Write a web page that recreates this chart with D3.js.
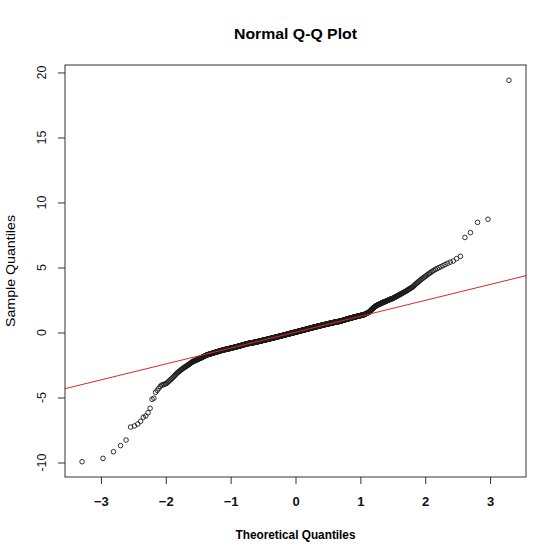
<!DOCTYPE html>
<html>
<head>
<meta charset="utf-8">
<script src="https://cdn.jsdelivr.net/npm/d3@7"></script>
<style>
  html, body { margin: 0; padding: 0; background: #fff; }
  svg { display: block; font-family: "Liberation Sans", Arial, sans-serif; }
</style>
</head>
<body>
<svg id="chart" width="560" height="559"></svg>
<script>
// ---- Data: sorted sample values (rank order) ----
const lowerTail = [-9.94,-9.68,-9.17,-8.70,-8.27,-7.27,-7.19,-7.04,-6.83,-6.52,
  -6.42,-6.17,-5.83,-5.14,-5.05,-4.60,-4.45,-4.30,-4.15,-4.05];

const lowerShoulder = [-4.02,-3.98,-3.95,-3.90,
  -3.82,-3.75,-3.66,-3.60,-3.52,-3.45,-3.37,-3.30,-3.22,-3.14,
  -3.09,-3.04,-2.99,-2.94,-2.89,-2.84,-2.80,-2.75,
  -2.72,-2.68,-2.65,-2.61,-2.58,-2.55,-2.51,-2.48,-2.44,-2.41,-2.37,-2.34,-2.31,-2.27,-2.24,
  -2.22,-2.20,-2.18,-2.17,-2.15,-2.13,-2.11,-2.09,-2.08,-2.06,-2.04,-2.02,-2.01,-1.99,-1.97,
  -1.95,-1.94,-1.92,-1.90,-1.88,-1.87,-1.85,-1.83,-1.81,-1.80,-1.78,-1.76,-1.75,-1.73,
  -1.72,-1.71,-1.70,-1.69,-1.68,-1.67,-1.66,-1.66,-1.65,-1.64,-1.63,-1.62,-1.61,-1.60,-1.59,
  -1.58,-1.57,-1.56,-1.56,-1.55,-1.54,-1.53,-1.52,-1.51,-1.51,-1.50,-1.49,-1.48,-1.48,-1.47,
  -1.46,-1.45,-1.45,-1.44,-1.43,-1.42,-1.42,-1.41,-1.40,-1.39,-1.39,-1.38,-1.37,-1.37,-1.36,-1.35];

const lowerCore = [
  -1.34,-1.34,-1.33,-1.33,-1.32,-1.32,-1.31,-1.31,-1.30,-1.30,
  -1.29,-1.29,-1.28,-1.28,-1.27,-1.27,-1.26,-1.26,-1.25,-1.25,
  -1.24,-1.24,-1.23,-1.23,-1.22,-1.22,-1.21,-1.21,-1.20,-1.20,
  -1.19,-1.19,-1.18,-1.18,-1.17,-1.17,-1.16,-1.16,-1.15,-1.15,
  -1.14,-1.14,-1.13,-1.13,-1.12,-1.12,-1.11,-1.11,-1.10,-1.10,
  -1.09,-1.09,-1.08,-1.08,-1.07,-1.07,-1.06,-1.06,-1.05,-1.05,
  -1.04,-1.04,-1.03,-1.03,-1.02,-1.02,-1.01,-1.01,-1.00,-1.00,
  -0.99,-0.99,-0.98,-0.98,-0.97,-0.97,-0.96,-0.96,-0.95,-0.95,
  -0.94,-0.94,-0.93,-0.93,-0.92,-0.92,-0.91,-0.91,-0.90,-0.90,
  -0.89,-0.89,-0.88,-0.88,-0.87,-0.87,-0.87,-0.86,-0.86,-0.86,
  -0.85,-0.85,-0.85,-0.84,-0.84,-0.84,-0.83,-0.83,-0.83,-0.83,
  -0.83,-0.82,-0.82,-0.82,-0.81,-0.81,-0.81,-0.80,
  -0.80,-0.80,-0.79,-0.79,-0.79,-0.78,-0.78,-0.78,-0.77,-0.77,
  -0.77,-0.76,-0.76,-0.76,-0.75,-0.75,-0.75,-0.74,-0.74,-0.74,
  -0.73,-0.73,-0.73,-0.72,-0.72,-0.72,-0.71,-0.71,-0.71,-0.70,
  -0.70,-0.70,-0.69,-0.69,-0.69,-0.68,-0.68,-0.68,-0.67,-0.67,
  -0.67,-0.66,
  -0.66,-0.65,-0.65,-0.65,-0.64,-0.64,-0.64,-0.63,-0.63,-0.63,
  -0.62,-0.62,-0.62,-0.61,-0.61,-0.61,-0.60,-0.60,-0.60,-0.59,
  -0.59,-0.59,-0.58,-0.58,-0.58,-0.57,-0.57,-0.57,-0.56,-0.56,
  -0.56,-0.55,-0.55,-0.55,-0.54,-0.54,-0.54,-0.53,-0.53,-0.53,
  -0.52,-0.52,-0.52,-0.51,-0.51,-0.51,-0.50,-0.50,-0.50,-0.49,
  -0.49,-0.49,-0.48,-0.48,-0.48,-0.47,-0.47,-0.47,-0.46,-0.46,
  -0.46,-0.45,-0.45,-0.45,-0.44,-0.44,-0.44,-0.43,-0.43,-0.43,
  -0.42,-0.42,-0.42,-0.41,-0.41,-0.41,-0.40,-0.40,-0.40,-0.39,
  -0.39,-0.39,-0.38,-0.38,-0.38,-0.37,-0.37,-0.37,-0.36,-0.36,
  -0.36,-0.35,-0.35,-0.35,-0.34,-0.34,-0.34,-0.33,-0.33,-0.33,
  -0.32,-0.32,-0.32,-0.31,-0.31,-0.31,-0.31,-0.30,-0.30,-0.30,
  -0.29,-0.29,-0.29,-0.28,-0.28,-0.28,-0.27,-0.27,-0.27,-0.26,
  -0.26,-0.26,-0.25,-0.25,-0.25,-0.24,-0.24,-0.24,-0.23,-0.23,
  -0.23,-0.22,-0.22,-0.22,-0.21,-0.21,-0.21,-0.20,-0.20,-0.20,
  -0.19,-0.19,-0.19,-0.18,-0.18,-0.18,-0.17,-0.17,-0.17,-0.16,
  -0.16,-0.16,-0.15,-0.15,-0.15,-0.14,-0.14,-0.14,-0.13,-0.13,
  -0.13,-0.12,-0.12,-0.12,-0.11,-0.11,-0.11,-0.10,-0.10,-0.10,
  -0.09,-0.09,-0.09,-0.08,-0.08,-0.08,-0.07,-0.07,-0.07,-0.06,
  -0.06,-0.06,-0.05,-0.05,-0.05,-0.04,-0.04,-0.04,-0.03,-0.03,
  -0.03,-0.02,-0.02,-0.02,-0.01,-0.01,-0.01,0.00,0.00,0.00,
  0.00,0.01,0.01,0.01,0.02,0.02,0.02,0.03];

const upperCore = [
  0.03,0.03,0.04,0.04,0.04,0.05,0.05,0.05,0.06,0.06,
  0.06,0.07,0.07,0.07,0.08,0.08,0.08,0.09,0.09,0.09,
  0.10,0.10,0.10,0.11,0.11,0.11,0.12,0.12,0.12,0.13,
  0.13,0.13,0.14,0.14,0.14,0.15,0.15,0.15,0.16,0.16,
  0.16,0.17,0.17,0.17,0.18,0.18,0.18,0.19,0.19,0.19,
  0.20,0.20,0.20,0.21,0.21,0.21,0.22,0.22,0.22,0.23,
  0.23,0.23,0.24,0.24,0.24,0.25,0.25,0.25,0.26,0.26,
  0.26,0.27,0.27,0.27,0.28,0.28,0.28,0.29,0.29,0.29,
  0.30,0.30,0.30,0.31,0.31,0.31,0.32,0.32,0.32,0.33,
  0.33,0.33,0.34,0.34,0.34,0.35,0.35,0.35,0.36,
  0.36,0.36,0.37,0.37,0.37,0.38,0.38,0.38,0.39,0.39,
  0.39,0.40,0.40,0.40,0.41,0.41,0.41,0.42,0.42,0.42,
  0.43,0.43,0.43,0.44,0.44,0.44,0.45,0.45,0.45,0.46,
  0.46,0.46,0.47,0.47,0.47,0.48,0.48,0.48,0.49,0.49,
  0.49,0.50,0.50,0.50,0.51,0.51,0.51,0.52,0.52,0.52,
  0.53,0.53,0.53,0.54,0.54,0.54,0.55,0.55,0.55,0.56,
  0.56,0.56,0.57,0.57,0.57,0.58,0.58,0.58,0.59,0.59,
  0.59,0.60,0.60,0.60,0.61,0.61,0.61,0.62,0.62,0.62,
  0.63,0.63,0.63,0.64,0.64,0.64,
  0.65,0.65,0.65,0.66,0.66,0.66,0.67,0.67,0.67,0.68,
  0.68,0.68,0.69,0.69,0.69,0.70,0.70,0.70,0.71,0.71,
  0.71,0.72,0.72,0.72,0.73,0.73,0.73,0.74,0.74,0.74,
  0.75,0.75,0.75,0.76,0.76,0.76,0.77,0.77,0.77,0.78,
  0.78,0.78,0.79,0.79,0.79,0.80,0.80,0.80,0.81,0.81,
  0.81,0.82,0.82,0.82,0.83,0.83,0.83,0.83,0.84,0.84,
  0.84,0.84,0.85,0.85,0.85,
  0.85,0.86,0.86,0.87,0.87,0.88,0.88,0.88,0.89,0.89,
  0.90,0.90,0.91,0.91,0.92,0.92,0.93,0.93,0.94,0.94,
  0.95,0.95,0.96,0.96,0.97,0.97,0.98,0.98,0.99,0.99,
  1.00,1.00,1.01,1.01,1.02,1.02,1.03,1.03,1.04,1.04,
  1.05,1.05,1.06,1.06,1.07,1.07,1.08,1.08,1.09,1.09,
  1.10,1.10,1.11,1.11,1.12,1.12,1.13,1.13,1.14,1.14,
  1.15,1.15,1.16,1.16,
  1.17,1.17,1.18,1.18,1.19,1.19,1.20,1.20,1.21,1.21,
  1.22,1.22,1.23,1.23,1.24,1.24,1.25,1.25,1.26,1.26,
  1.27,1.27,1.27,1.28,1.28,1.29,1.29,1.30,
  1.31,1.31,1.32,1.32,1.33,1.33,1.34,1.34,1.35,1.35,1.36,1.36];

const upperShoulder = [
  1.37,1.38,1.39,1.41,1.42,1.43,1.44,1.45,1.46,1.47,1.48,1.49,1.50,1.51,1.53,1.54,1.55,1.56,1.58,
  1.61,1.63,1.66,1.68,1.71,1.73,1.76,1.78,1.81,1.83,1.86,1.88,
  1.90,1.92,1.94,1.96,1.98,2.00,2.02,2.04,2.06,2.08,
  2.09,2.11,2.12,2.13,2.15,2.16,2.17,2.19,2.20,
  2.21,2.23,2.24,2.26,2.27,2.28,2.30,2.31,2.33,2.34,2.35,2.37,2.38,2.39,2.41,2.42,
  2.44,2.45,2.47,2.48,2.50,2.51,2.53,2.54,2.56,2.57,2.59,2.60,2.62,2.63,
  2.65,2.67,2.70,2.72,2.74,2.76,2.79,2.81,2.83,2.85,2.88,2.90,
  2.93,2.95,2.98,3.01,3.04,3.06,3.09,3.12,3.15,3.17,3.20,
  3.24,3.28,3.32,3.35,3.39,3.43,3.46,3.50,
  3.56,3.62,3.69,3.75,3.81,3.87,3.94,4.00,
  4.07,4.13,4.20,4.27,4.33,4.40,
  4.48,4.55,4.63,4.70,4.78,
  4.85,4.92,4.99,5.06,
  5.14,5.23,5.32,5.41,5.50,
  5.68,5.86];

const upperTail = [7.31,7.68,8.47,8.71,19.40];

const xTicks = [-3,-2,-1,0,1,2,3];
const yTicks = [-10,-5,0,5,10,15,20];

const titleText = "Normal Q-Q Plot";
const xLabelText = "Theoretical Quantiles";
const yLabelText = "Sample Quantiles";

// ---- Helpers ----
function qnorm(p) {
  const a=[-3.969683028665376e+01,2.209460984245205e+02,-2.759285104469687e+02,1.383577518672690e+02,-3.066479806614716e+01,2.506628277459239e+00];
  const b=[-5.447609879822406e+01,1.615858368580409e+02,-1.556989798598866e+02,6.680131188771972e+01,-1.328068155288572e+01];
  const c=[-7.784894002430293e-03,-3.223964580411365e-01,-2.400758277161838e+00,-2.549732539343734e+00,4.374664141464968e+00,2.938163982698783e+00];
  const d=[7.784695709041462e-03,3.224671290700398e-01,2.445134137142996e+00,3.754408661907416e+00];
  const pl = 0.02425, ph = 1 - pl;
  let q, r;
  if (p < pl) {
    q = Math.sqrt(-2*Math.log(p));
    return (((((c[0]*q+c[1])*q+c[2])*q+c[3])*q+c[4])*q+c[5])/((((d[0]*q+d[1])*q+d[2])*q+d[3])*q+1);
  }
  if (p <= ph) {
    q = p - 0.5; r = q*q;
    return (((((a[0]*r+a[1])*r+a[2])*r+a[3])*r+a[4])*r+a[5])*q/(((((b[0]*r+b[1])*r+b[2])*r+b[3])*r+b[4])*r+1);
  }
  q = Math.sqrt(-2*Math.log(1-p));
  return -(((((c[0]*q+c[1])*q+c[2])*q+c[3])*q+c[4])*q+c[5])/((((d[0]*q+d[1])*q+d[2])*q+d[3])*q+1);
}

const sample = [].concat(lowerTail, lowerShoulder, lowerCore, upperCore, upperShoulder, upperTail).sort((a,b)=>a-b);
const n = sample.length;
const points = sample.map((v, i) => ({ t: qnorm((i + 1 - 0.5) / n), s: v }));

// ---- Layout ----
const pL = 65, pR = 526, pT = 65, pB = 477;
const svg = d3.select("#chart");

function padExtent(ext) {
  const r = ext[1] - ext[0];
  return [ext[0] - 0.04 * r, ext[1] + 0.04 * r];
}
const x = d3.scaleLinear().domain(padExtent(d3.extent(points, d => d.t))).range([pL, pR]);
const y = d3.scaleLinear().domain(padExtent(d3.extent(points, d => d.s))).range([pB, pT]);

svg.append("defs").append("clipPath").attr("id", "plotclip")
  .append("rect").attr("x", pL).attr("y", pT).attr("width", pR - pL).attr("height", pB - pT);

// qq line through quartiles
const q1 = d3.quantile(sample, 0.25), q3 = d3.quantile(sample, 0.75);
const z1 = qnorm(0.25), z3 = qnorm(0.75);
const slope = (q3 - q1) / (z3 - z1);
const intercept = q1 - slope * z1;
const xd = x.domain();

svg.append("g").attr("clip-path", "url(#plotclip)")
  .selectAll("circle").data(points).join("circle")
  .attr("cx", d => x(d.t)).attr("cy", d => y(d.s)).attr("r", 2.3)
  .attr("fill", "none").attr("stroke", "#1a1a1a").attr("stroke-width", 0.9);

svg.append("line").attr("clip-path", "url(#plotclip)")
  .attr("x1", x(xd[0])).attr("y1", y(intercept + slope * xd[0]))
  .attr("x2", x(xd[1])).attr("y2", y(intercept + slope * xd[1]))
  .attr("stroke", "#d42a2a").attr("stroke-width", 1);

svg.append("rect").attr("x", pL).attr("y", pT).attr("width", pR - pL).attr("height", pB - pT)
  .attr("fill", "none").attr("stroke", "#333").attr("stroke-width", 1);

const xAxis = svg.append("g").attr("transform", `translate(0,${pB})`)
  .call(d3.axisBottom(x).tickValues(xTicks).tickSize(7).tickPadding(13).tickFormat(d3.format("d")));
xAxis.select(".domain").remove();
xAxis.selectAll(".tick line").attr("stroke", "#333");
xAxis.selectAll(".tick text").attr("font-size", 13).attr("font-weight", "bold")
  .attr("font-family", "'Liberation Sans', Arial, sans-serif").attr("fill", "#111");

const yAxis = svg.append("g").attr("transform", `translate(${pL},0)`)
  .call(d3.axisLeft(y).tickValues(yTicks).tickSize(7).tickFormat(""));
yAxis.select(".domain").remove();
yAxis.selectAll(".tick line").attr("stroke", "#333");
svg.append("g").selectAll("text").data(yTicks).join("text")
  .attr("transform", d => `translate(46,${y(d)}) rotate(-90)`)
  .attr("text-anchor", "middle").attr("font-size", 12.5).attr("fill", "#111")
  .text(d => d);

svg.append("text").attr("x", (pL + pR) / 2).attr("y", 38.5)
  .attr("text-anchor", "middle").attr("font-size", 14.5).attr("font-weight", "bold")
  .attr("textLength", 123).attr("lengthAdjust", "spacingAndGlyphs").attr("fill", "#000")
  .text(titleText);

svg.append("text").attr("x", (pL + pR) / 2).attr("y", 539)
  .attr("text-anchor", "middle").attr("font-size", 13.5).attr("font-weight", "bold")
  .attr("textLength", 120).attr("lengthAdjust", "spacingAndGlyphs").attr("fill", "#000")
  .text(xLabelText);

svg.append("text").attr("transform", `translate(15,${(pT + pB) / 2}) rotate(-90)`)
  .attr("text-anchor", "middle").attr("font-size", 12.5)
  .attr("textLength", 112).attr("lengthAdjust", "spacingAndGlyphs").attr("fill", "#000")
  .text(yLabelText);
</script>
</body>
</html>
